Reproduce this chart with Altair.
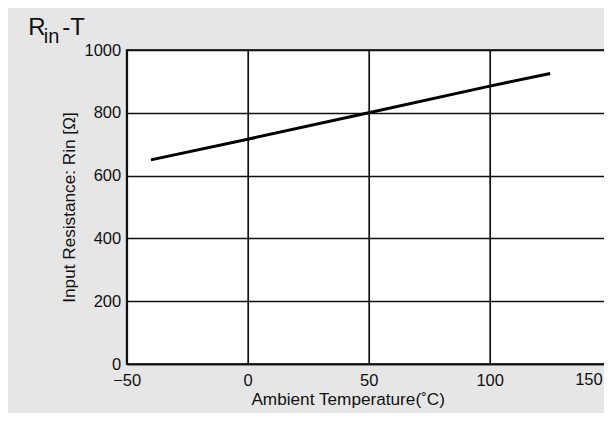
import altair as alt
import pandas as pd

# data
temps = [-40, 0, 50, 100, 125]
rin = [650, 716, 800, 885, 925]

x_ticks = [-50, 0, 50, 100, 150]
y_ticks = [0, 200, 400, 600, 800, 1000]

title_big = "R"
title_sub = "in"
title_tail = "-T"
x_title = "Ambient Temperature(˚C)"
y_title = "Input Resistance: Rin [Ω]"

FONT = "Liberation Sans"
W, H = 484, 314

df = pd.DataFrame({"temp": temps, "rin": rin})
xscale = alt.Scale(domain=[x_ticks[0], x_ticks[-1]], nice=False)

line = alt.Chart(df).mark_line(color="black", strokeWidth=3, clip=True).encode(
    x=alt.X(
        "temp:Q",
        scale=xscale,
        axis=alt.Axis(
            values=x_ticks,
            format="d",
            labelExpr=f"datum.value === {x_ticks[-1]} ? '' : datum.label",
            labelFlush=False,
            title=x_title,
            titleX=221,
            titleY=40.5,
            titleBaseline="alphabetic",
            titleAlign="center",
            labelBaseline="top",
            labelPadding=8,
        ),
    ),
    y=alt.Y(
        "rin:Q",
        scale=alt.Scale(domain=[y_ticks[0], y_ticks[-1]], nice=False),
        axis=alt.Axis(
            values=y_ticks,
            format="d",
            title=y_title,
            titleX=-57,
            titleY=157,
            titleBaseline="middle",
            titleAlign="center",
            titleAngle=270,
            labelPadding=6,
        ),
    ),
)

# last x tick label, drawn flush to the visible right edge
last_df = pd.DataFrame({"v": [x_ticks[-1]], "lab": [str(x_ticks[-1])]})
last_lab = alt.Chart(last_df).mark_text(
    font=FONT, fontSize=16.5, color="#111", align="right", baseline="top", dx=-8, dy=8
).encode(x=alt.X("v:Q", scale=xscale), y=alt.value(H), text="lab:N")

tdf = pd.DataFrame({"k": [0]})
t1 = alt.Chart(tdf).mark_text(text=title_big, font=FONT, fontSize=24, align="left",
                              baseline="alphabetic", color="#111").encode(
    x=alt.value(-98.5), y=alt.value(-15))
t2 = alt.Chart(tdf).mark_text(text=title_sub, font=FONT, fontSize=20, align="left",
                              baseline="alphabetic", color="#111").encode(
    x=alt.value(-83), y=alt.value(-7))
t3 = alt.Chart(tdf).mark_text(text=title_tail, font=FONT, fontSize=24, align="left",
                              baseline="alphabetic", color="#111").encode(
    x=alt.value(-64.5), y=alt.value(-15))

chart = alt.layer(line, last_lab, t1, t2, t3).properties(
    width=W,
    height=H,
    autosize=alt.AutoSizeParams(type="none"),
    padding={"left": 118.7, "top": 42, "right": -6.7, "bottom": 49},
    background="#e6e6e6",
).configure_view(
    fill="white", stroke="black", strokeWidth=1.7
).configure_axis(
    grid=True,
    gridColor="#111",
    gridWidth=1.7,
    gridOpacity=1,
    domainColor="#111",
    domainWidth=1.7,
    ticks=False,
    labelFont=FONT,
    labelFontSize=16.5,
    labelColor="#111",
    titleFont=FONT,
    titleFontSize=17.2,
    titleFontWeight="normal",
    titleColor="#111",
)

chart.save("out.html", embed_options={"renderer": "svg", "actions": False})
